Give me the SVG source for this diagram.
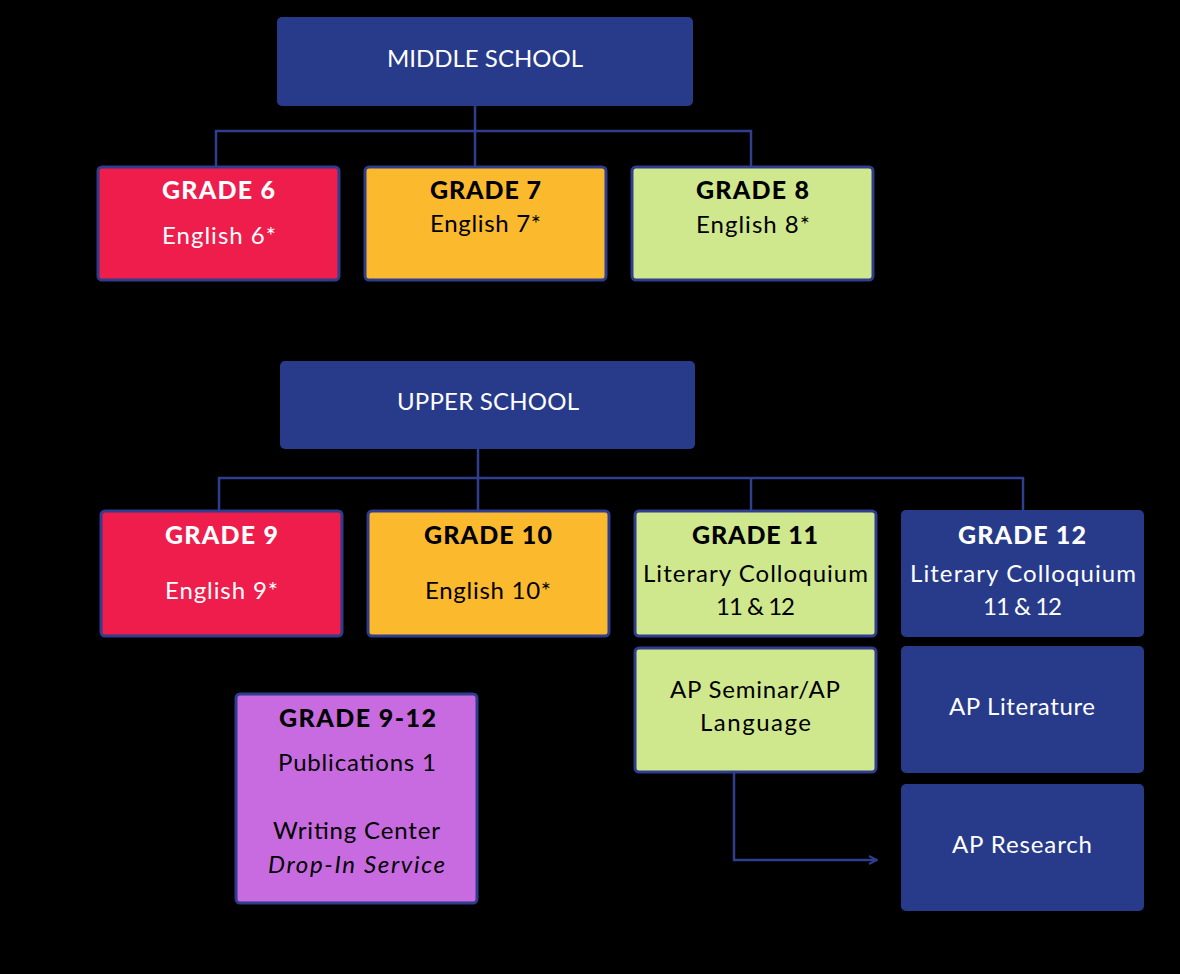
<svg xmlns="http://www.w3.org/2000/svg" width="1180" height="974" viewBox="0 0 1180 974">
<defs>
<style>
.bg{fill:#000}
.hdr{fill:#283b8b}
.box{stroke:#2f3d8c;stroke-width:3}
.red{fill:#ee1d4b}
.org{fill:#fbba2d}
.grn{fill:#d0e88d}
.pur{fill:#c86be0}
.blu{fill:#283b8b}
.conn{fill:none;stroke:#2f3e8e;stroke-width:2.5}
text{font-family:Lato,"Noto Sans","Liberation Sans",sans-serif;text-anchor:middle;font-size:24px}
.h{font-size:24px}
.t{font-weight:900;font-size:25px}
.w{fill:#fff}
.k{fill:#000}
.i{font-style:italic}
</style>
<marker id="arr" viewBox="0 0 10 10" refX="9" refY="5" markerWidth="10" markerHeight="10" markerUnits="userSpaceOnUse" orient="auto">
<path d="M1,1 L9,5 L1,9" fill="none" stroke="#2f3e8e" stroke-width="2"/>
</marker>
</defs>
<rect class="bg" x="0" y="0" width="1180" height="974"/>
<g id="connectors">
<path class="conn" d="M475,106 V131 M216,167 V131 H751 V167 M475,131 V167"/>
<path class="conn" d="M478,449 V478 M219,511 V478 H1023 V511 M478,478 V511 M751,478 V511"/>
<path class="conn" d="M734,772 V860 H877" marker-end="url(#arr)"/>
</g>
<g id="middle-school">
<rect class="hdr" x="277" y="17" width="416" height="89" rx="5"/>
<text class="h w" x="485" y="67" textLength="196">MIDDLE SCHOOL</text>
</g>
<g id="grade6">
<rect class="box red" x="98" y="167" width="241" height="113" rx="4"/>
<text class="t w" x="218.5" y="199" textLength="113">GRADE 6</text>
<text class="w" x="219" y="244" textLength="114">English 6*</text>
</g>
<g id="grade7">
<rect class="box org" x="365" y="167" width="241" height="113" rx="4"/>
<text class="t k" x="485.5" y="199" textLength="111">GRADE 7</text>
<text class="k" x="485.5" y="232" textLength="111">English 7*</text>
</g>
<g id="grade8">
<rect class="box grn" x="632" y="167" width="241" height="113" rx="4"/>
<text class="t k" x="752.5" y="199" textLength="113">GRADE 8</text>
<text class="k" x="753" y="233" textLength="114">English 8*</text>
</g>
<g id="upper-school">
<rect class="hdr" x="280" y="361" width="415" height="88" rx="5"/>
<text class="h w" x="488" y="410" textLength="182">UPPER SCHOOL</text>
</g>
<g id="grade9">
<rect class="box red" x="101" y="511" width="241" height="125" rx="4"/>
<text class="t w" x="221.5" y="544" textLength="113">GRADE 9</text>
<text class="w" x="221.5" y="599" textLength="113">English 9*</text>
</g>
<g id="grade10">
<rect class="box org" x="368" y="511" width="241" height="125" rx="4"/>
<text class="t k" x="488" y="544" textLength="128">GRADE 10</text>
<text class="k" x="488" y="599" textLength="126">English 10*</text>
</g>
<g id="grade11">
<rect class="box grn" x="635" y="511" width="241" height="125" rx="4"/>
<text class="t k" x="755" y="544" textLength="126">GRADE 11</text>
<text class="k" x="755.5" y="582" textLength="225">Literary Colloquium</text>
<text class="k" x="755.5" y="615" textLength="79">11 &amp; 12</text>
</g>
<g id="grade12">
<rect class="blu" x="901" y="510" width="243" height="127" rx="5"/>
<text class="t w" x="1022" y="544" textLength="128">GRADE 12</text>
<text class="w" x="1023" y="582" textLength="226">Literary Colloquium</text>
<text class="w" x="1022.5" y="615" textLength="79">11 &amp; 12</text>
</g>
<g id="ap-seminar">
<rect class="box grn" x="635" y="648" width="241" height="124" rx="4"/>
<text class="k" x="755" y="698" textLength="170">AP Seminar/AP</text>
<text class="k" x="755.5" y="731" textLength="111">Language</text>
</g>
<g id="ap-literature">
<rect class="blu" x="901" y="646" width="243" height="127" rx="5"/>
<text class="w" x="1022" y="715" textLength="146">AP Literature</text>
</g>
<g id="ap-research">
<rect class="blu" x="901" y="784" width="243" height="127" rx="5"/>
<text class="w" x="1022" y="853" textLength="140">AP Research</text>
</g>
<g id="grade9-12">
<rect class="box pur" x="236" y="694" width="241" height="209" rx="4"/>
<text class="t k" x="357.5" y="727" textLength="157">GRADE 9-12</text>
<text class="k" x="357" y="771" textLength="158">Publications 1</text>
<text class="k" x="356.5" y="839" textLength="167">Writing Center</text>
<text class="k i" x="356.5" y="873" textLength="177">Drop-In Service</text>
</g>
</svg>
